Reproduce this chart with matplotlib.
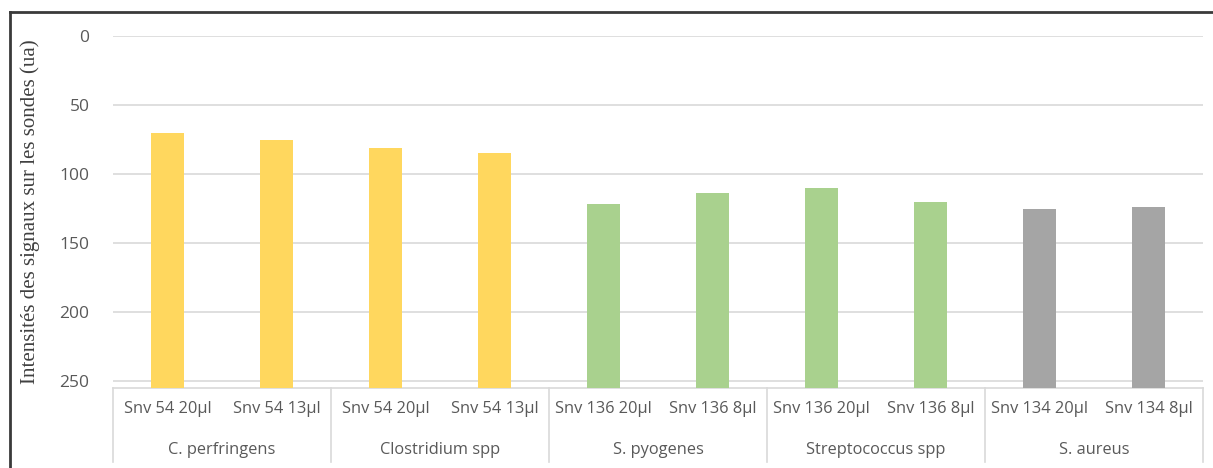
import matplotlib.pyplot as plt
from matplotlib.lines import Line2D
import numpy as np

# data
probes = ["Snv 54 20µl", "Snv 54 13µl", "Snv 54 20µl", "Snv 54 13µl",
          "Snv 136 20µl", "Snv 136 8µl", "Snv 136 20µl", "Snv 136 8µl",
          "Snv 134 20µl", "Snv 134 8µl"]
groups = ["C. perfringens", "Clostridium spp", "S. pyogenes",
          "Streptococcus spp", "S. aureus"]
values = [70, 75, 81, 85, 122, 114, 110, 120, 125, 124]
colors = ["#FFD75E"] * 4 + ["#A9D18E"] * 4 + ["#A5A5A5"] * 2
ymax = 255

fig = plt.figure(figsize=(12.13, 4.68), dpi=100)
ax = fig.add_axes([113 / 1213, 1 - 388 / 468, 1090 / 1213, 352 / 468])

x = np.arange(len(values))
heights = [v - ymax for v in values]
ax.bar(x, heights, bottom=ymax, width=0.31, color=colors, zorder=3)

ax.set_xlim(-0.5, len(values) - 0.5)
ax.set_ylim(ymax, 0)
ax.set_yticks(np.arange(0, 251, 50))
ax.yaxis.grid(True, color="#d9d9d9", linewidth=1.2, zorder=0)
ax.tick_params(axis="y", length=0, pad=17, labelsize=12.5, labelcolor="#595959")
ax.set_xticks([])
for lab in ax.get_yticklabels():
    lab.set_fontfamily("Open Sans")
for s in ["top", "left", "right"]:
    ax.spines[s].set_visible(False)
ax.spines["bottom"].set_color("#d9d9d9")
ax.spines["bottom"].set_linewidth(1.2)

ax.set_ylabel("Intensités des signaux sur les sondes (ua)", family="Liberation Serif",
              fontsize=15, color="#404040", labelpad=14)

# two-level category axis
tr = ax.get_xaxis_transform()
for i, p in enumerate(probes):
    ax.text(i, -0.06, p, transform=tr, ha="center", va="center",
            fontsize=11.8, color="#595959", family="Open Sans")
for g, name in enumerate(groups):
    ax.text(2 * g + 0.5, -0.177, name, transform=tr, ha="center", va="center",
            fontsize=11.8, color="#595959", family="Open Sans")
for b in np.arange(-0.5, len(values), 2):
    ax.add_line(Line2D([b, b], [0, -0.21], transform=tr, color="#d9d9d9",
                       linewidth=1.2, clip_on=False))

# outer frame (top and left only visible)
fig.add_artist(Line2D([9.5 / 1213, 1], [1 - 12 / 468, 1 - 12 / 468],
                      transform=fig.transFigure, color="#3a3a3a", linewidth=2))
fig.add_artist(Line2D([9.5 / 1213, 9.5 / 1213], [0, 1 - 12 / 468],
                      transform=fig.transFigure, color="#3a3a3a", linewidth=2))

fig.savefig("out.png", dpi=100)
